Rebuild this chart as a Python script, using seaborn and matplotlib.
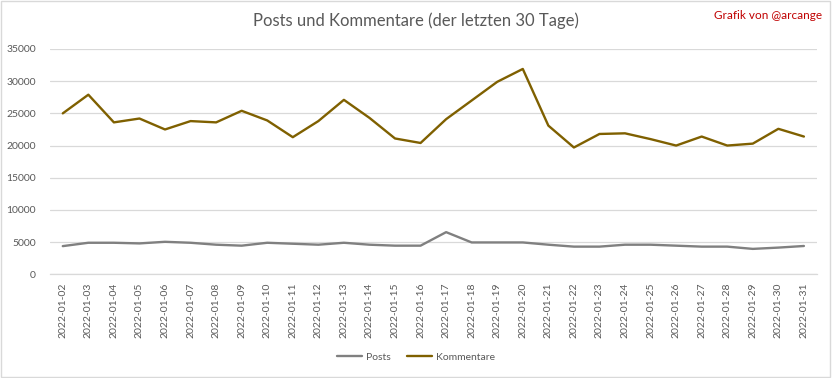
import matplotlib
matplotlib.use("Agg")
import matplotlib.pyplot as plt
import seaborn as sns
import pandas as pd
from matplotlib.patches import Rectangle
from matplotlib.lines import Line2D

dates = ["2022-01-%02d" % d for d in range(2, 32)]
posts = [4380, 4900, 4900, 4800, 5050, 4900, 4600, 4450, 4900, 4750,
         4600, 4900, 4600, 4450, 4450, 6550, 4950, 4950, 4950, 4600,
         4300, 4300, 4600, 4600, 4450, 4300, 4300, 3950, 4150, 4400]
kommentare = [25000, 27900, 23600, 24200, 22500, 23800, 23600, 25400, 23900, 21300,
              23800, 27100, 24300, 21100, 20400, 24100, 27000, 29900, 31900, 23100,
              19700, 21800, 21900, 21000, 20000, 21400, 20000, 20300, 22600, 21400]
series_names = ["Posts", "Kommentare"]
colors = {"Posts": "#808080", "Kommentare": "#7F6000"}

df = pd.DataFrame({
    "Datum": dates * 2,
    "Wert": posts + kommentare,
    "Serie": ["Posts"] * len(dates) + ["Kommentare"] * len(dates),
})

sns.set_style("white")
plt.rcParams["font.family"] = ["Lato", "DejaVu Sans"]

fig = plt.figure(figsize=(8.32, 3.78), dpi=100)
ax = fig.add_axes([0.0601, 0.2743, 0.9215, 0.5961])

sns.lineplot(data=df, x="Datum", y="Wert", hue="Serie", hue_order=series_names,
             palette=colors, linewidth=1.7, sort=False, ax=ax, legend=False)

ax.set_xlim(-0.5, len(dates) - 0.5)
ax.set_ylim(0, 35000)
ax.set_yticks(range(0, 35001, 5000))
ax.set_xticks(range(len(dates)))
ax.set_xticklabels(dates, rotation=90)
ax.tick_params(axis="both", length=0, labelsize=7.5, labelcolor="#595959")
ax.tick_params(axis="y", pad=10)
ax.tick_params(axis="x", pad=6)
ax.set_xlabel("")
ax.set_ylabel("")
ax.grid(axis="y", color="#D9D9D9", linewidth=0.9)
ax.set_axisbelow(True)
for s in ["top", "right", "left"]:
    ax.spines[s].set_visible(False)
ax.spines["bottom"].set_color("#D9D9D9")
ax.spines["bottom"].set_linewidth(0.9)

fig.text(0.5, 0.945, "Posts und Kommentare (der letzten 30 Tage)", ha="center", va="center",
         fontsize=12, color="#595959")
fig.text(0.988, 0.96, "Grafik von @arcange", ha="right", va="center",
         fontsize=8.5, color="#C00000")

handles = [Line2D([0], [0], color=colors[n], linewidth=1.7) for n in series_names]
fig.legend(handles, series_names, loc="center", bbox_to_anchor=(0.5, 0.055), ncol=2,
           frameon=False, fontsize=7.5, labelcolor="#595959", handlelength=2.4,
           handletextpad=0.4, columnspacing=1.6)

fig.patches.append(Rectangle((0.001, 0.002), 0.997, 0.995, transform=fig.transFigure,
                             fill=False, edgecolor="#D9D9D9", linewidth=1.0))

fig.savefig("out.png", dpi=100, facecolor="white")
